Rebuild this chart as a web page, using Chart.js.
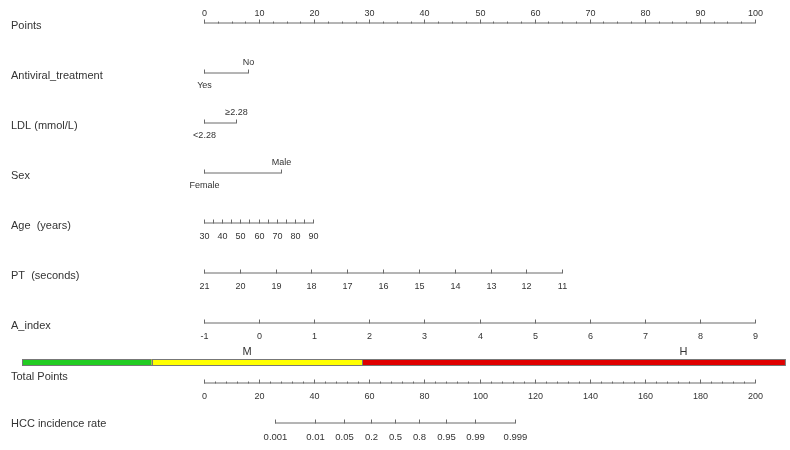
<!DOCTYPE html>
<html>
<head>
<meta charset="utf-8">
<script src="https://cdn.jsdelivr.net/npm/chart.js@4"></script>
<style>
  body { margin: 0; background: #fff; }
</style>
</head>
<body>
<canvas id="nomo" width="790" height="450"></canvas>
<script>
// rows of the nomogram, top to bottom
const rowNames = ['Points', 'Antiviral_treatment', 'LDL (mmol/L)', 'Sex', 'Age  (years)', 'PT  (seconds)', 'A_index'];

const pointsTicks = [0, 10, 20, 30, 40, 50, 60, 70, 80, 90, 100];

const antiviralLevels = ['Yes', 'No'];
const antiviralPoints = [0, 8];

const ldlLevels = ['<2.28', '≥2.28'];
const ldlPoints = [0, 5.8];

const sexLevels = ['Female', 'Male'];
const sexPoints = [0, 14];

const ageTicks = [30, 40, 50, 60, 70, 80, 90];
const agePoints = [0, 3.3, 6.6, 9.9, 13.2, 16.5, 19.8];

const ptTicks = [21, 20, 19, 18, 17, 16, 15, 14, 13, 12, 11];
const ptPoints = [0, 6.5, 13, 19.5, 26, 32.5, 39, 45.5, 52, 58.5, 65];

const aIndexTicks = [-1, 0, 1, 2, 3, 4, 5, 6, 7, 8, 9];
const aIndexPoints = [0, 10, 20, 30, 40, 50, 60, 70, 80, 90, 100];

const totalTicks = [0, 20, 40, 60, 80, 100, 120, 140, 160, 180, 200];

const hccTicks = ['0.001', '0.01', '0.05', '0.2', '0.5', '0.8', '0.95', '0.99', '0.999'];
const hccTotal = [25.8, 40.2, 50.7, 60.5, 69.3, 78.1, 87.9, 98.4, 113.0];

// risk strata along total points
const riskBreaks = [-66, -19, 57.5, 211];
const riskColors = ['#22cc22', '#ffff00', '#e00000'];
const riskLabels = ['', 'M', 'H'];
const riskLabelAt = [null, 15.6, 174];

const ROW_BAR = 6.78, ROW_TOTAL = 7.2, ROW_HCC = 8;
const lineColor = '#6a6a6a';
const textColor = '#333';

function seg(xs, row, axis) {
  return {
    data: [{ x: xs[0], y: row }, { x: xs[xs.length - 1], y: row }],
    xAxisID: axis || 'x',
    showLine: true,
    borderColor: lineColor,
    borderWidth: 1,
    pointRadius: 0,
    clip: false
  };
}

const datasets = [
  seg(pointsTicks, 0),
  seg(antiviralPoints, 1),
  seg(ldlPoints, 2),
  seg(sexPoints, 3),
  seg(agePoints, 4),
  seg(ptPoints, 5),
  seg(aIndexPoints, 6),
  seg(totalTicks, ROW_TOTAL, 'xt'),
  seg(hccTotal, ROW_HCC, 'xt')
];

const nomoPlugin = {
  id: 'nomo',
  afterDatasetsDraw(chart) {
    const ctx = chart.ctx;
    const x = chart.scales.x, xt = chart.scales.xt, y = chart.scales.y;
    const px = (s, v) => Math.round(s.getPixelForValue(v)) + 0.5;
    const py = r => Math.round(y.getPixelForValue(r)) + 0.5;

    ctx.save();
    ctx.strokeStyle = lineColor;
    ctx.lineWidth = 1;
    const tick = (s, v, r, len) => {
      ctx.beginPath();
      ctx.moveTo(px(s, v), py(r));
      ctx.lineTo(px(s, v), py(r) - len);
      ctx.stroke();
    };
    const text = (str, xx, yy, font, align) => {
      ctx.font = font;
      ctx.textAlign = align || 'center';
      ctx.textBaseline = 'middle';
      ctx.fillText(str, xx, yy);
    };
    const small = '9px "Liberation Sans", Arial, sans-serif';
    const big = '11px "Liberation Sans", Arial, sans-serif';
    ctx.fillStyle = textColor;

    // row titles
    rowNames.forEach((n, i) => text(n, 11, py(i) + 2, big, 'left'));
    text('Total Points', 11, py(ROW_TOTAL) - 7, big, 'left');
    text('HCC incidence rate', 11, py(ROW_HCC), big, 'left');

    // Points
    for (let v = 0; v <= 100; v += 2.5) tick(x, v, 0, v % 10 === 0 ? 4 : 2);
    pointsTicks.forEach(v => text(String(v), px(x, v), py(0) - 10, small));

    // categorical rows
    [[antiviralLevels, antiviralPoints, 1], [ldlLevels, ldlPoints, 2], [sexLevels, sexPoints, 3]].forEach(([lv, pt, r]) => {
      pt.forEach((p, i) => {
        tick(x, p, r, 4);
        text(lv[i], px(x, p), i === 0 ? py(r) + 12 : py(r) - 11, small);
      });
    });

    // Age, ticks every 5 years
    agePoints.forEach((p, i) => {
      tick(x, p, 4, 4);
      if (i > 0) tick(x, (p + agePoints[i - 1]) / 2, 4, 4);
      text(String(ageTicks[i]), px(x, p), py(4) + 13, small);
    });

    // PT
    ptPoints.forEach((p, i) => {
      tick(x, p, 5, 4);
      text(String(ptTicks[i]), px(x, p), py(5) + 13, small);
    });

    // A_index
    aIndexPoints.forEach((p, i) => {
      tick(x, p, 6, 4);
      text(String(aIndexTicks[i]), px(x, p), py(6) + 13, small);
    });

    // Total points, minor ticks every 4
    for (let v = 0; v <= 200; v += 4) tick(xt, v, ROW_TOTAL, v % 20 === 0 ? 4 : 2);
    totalTicks.forEach(v => text(String(v), px(xt, v), py(ROW_TOTAL) + 13, small));

    // HCC
    hccTotal.forEach((p, i) => {
      tick(xt, p, ROW_HCC, 4);
      text(hccTicks[i], px(xt, p), py(ROW_HCC) + 14, '9.5px "Liberation Sans", Arial, sans-serif');
    });

    // risk bar
    const yb = y.getPixelForValue(ROW_BAR);
    riskColors.forEach((c, i) => {
      const x0 = xt.getPixelForValue(riskBreaks[i]);
      const x1 = xt.getPixelForValue(riskBreaks[i + 1]);
      ctx.fillStyle = c;
      ctx.fillRect(x0, yb - 3, x1 - x0, 6);
      ctx.strokeStyle = '#777';
      ctx.strokeRect(Math.round(x0) + 0.5, Math.round(yb - 3) + 0.5, x1 - x0, 6);
      if (riskLabels[i]) {
        ctx.fillStyle = textColor;
        text(riskLabels[i], xt.getPixelForValue(riskLabelAt[i]), yb - 10, '11px "Liberation Sans", Arial, sans-serif');
      }
    });
    ctx.restore();
  }
};

new Chart(document.getElementById('nomo'), {
  type: 'scatter',
  data: { datasets },
  options: {
    responsive: false,
    animation: false,
    layout: { padding: { left: 204, right: 35, top: 23, bottom: 27 }, autoPadding: false },
    scales: {
      x: { type: 'linear', min: 0, max: 100, display: false },
      xt: { type: 'linear', axis: 'x', min: 0, max: 200, display: false },
      y: { type: 'linear', min: 0, max: 8, reverse: true, display: false }
    },
    plugins: { legend: { display: false }, tooltip: { enabled: false } }
  },
  plugins: [nomoPlugin]
});
</script>
</body>
</html>
